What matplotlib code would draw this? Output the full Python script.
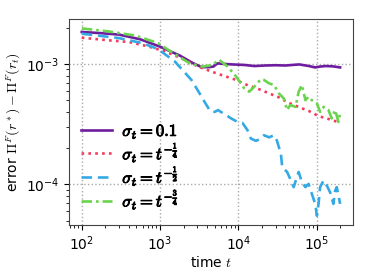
import matplotlib
matplotlib.use("Agg")
import matplotlib.pyplot as plt
import matplotlib.patheffects as pe

plt.rcParams['mathtext.fontset'] = 'cm'

# sigma_t = 0.1
t_const = [100, 175, 300, 560, 1000, 1800, 2600, 3400, 4200, 4800, 5400, 6500, 8400,
           12000, 16000, 22000, 30000, 40000, 60000, 80000, 96000, 110000, 130000,
           160000, 200000]
e_const = [1.84e-3, 1.80e-3, 1.75e-3, 1.60e-3, 1.39e-3, 1.17e-3, 1.02e-3, 0.94e-3,
           0.94e-3, 0.95e-3, 1.01e-3, 1.00e-3, 0.99e-3, 0.98e-3, 0.96e-3, 0.97e-3,
           0.975e-3, 0.97e-3, 0.99e-3, 0.96e-3, 0.935e-3, 0.95e-3, 0.96e-3, 0.955e-3,
           0.935e-3]

# sigma_t = t^-1/4
t_q1 = [100, 220, 400, 700, 1150, 1900, 2500, 3500, 5400, 8900, 13000, 18500, 26000,
        33000, 44000, 62000, 79000, 106000, 149000, 200000]
e_q1 = [1.65e-3, 1.57e-3, 1.52e-3, 1.40e-3, 1.27e-3, 1.11e-3, 1.01e-3, 0.92e-3,
        0.83e-3, 0.745e-3, 0.668e-3, 0.616e-3, 0.562e-3, 0.528e-3, 0.476e-3,
        0.433e-3, 0.408e-3, 0.369e-3, 0.346e-3, 0.325e-3]

# sigma_t = t^-1/2
t_half = [100, 294, 590, 940, 1550, 2520, 3200, 3700, 4300, 4500, 5000, 5500, 7000,
          8100, 9800, 11300, 13100, 14500, 16800, 19400, 21300, 24700, 28600, 31000,
          35000, 36400, 42000, 46000, 51000, 56000, 59000, 65000, 72000, 79000, 87000,
          96000, 101000, 106000, 111000, 123000, 135000, 149000, 164000, 173000,
          181000, 200000]
e_half = [1.78e-3, 1.64e-3, 1.49e-3, 1.33e-3, 1.045e-3, 0.736e-3, 0.57e-3, 0.485e-3,
          0.414e-3, 0.40e-3, 0.40e-3, 0.414e-3, 0.376e-3, 0.353e-3, 0.33e-3, 0.324e-3,
          0.282e-3, 0.24e-3, 0.23e-3, 0.24e-3, 0.256e-3, 0.246e-3, 0.256e-3, 0.233e-3,
          0.18e-3, 0.139e-3, 0.127e-3, 0.1115e-3, 0.095e-3, 0.115e-3, 0.127e-3,
          0.1045e-3, 0.095e-3, 0.101e-3, 0.0837e-3, 0.069e-3, 0.055e-3, 0.069e-3,
          0.095e-3, 0.108e-3, 0.098e-3, 0.086e-3, 0.069e-3, 0.089e-3, 0.095e-3,
          0.069e-3]

# sigma_t = t^-3/4
t_q3 = [100, 220, 480, 940, 1500, 2400, 3500, 4700, 5400, 5700, 7300, 9400, 11900,
        13800, 16000, 19400, 21300, 24700, 28600, 33000, 38000, 42000, 46000, 54000,
        59000, 65000, 72000, 79000, 87000, 101000, 111000, 123000, 142000, 156000,
        173000, 190000, 200000]
e_q3 = [1.97e-3, 1.86e-3, 1.72e-3, 1.49e-3, 1.22e-3, 1.01e-3, 0.95e-3, 0.98e-3,
        1.06e-3, 1.08e-3, 0.95e-3, 0.784e-3, 0.627e-3, 0.588e-3, 0.647e-3, 0.746e-3,
        0.736e-3, 0.69e-3, 0.668e-3, 0.57e-3, 0.518e-3, 0.414e-3, 0.455e-3, 0.44e-3,
        0.588e-3, 0.668e-3, 0.50e-3, 0.534e-3, 0.50e-3, 0.47e-3, 0.40e-3, 0.44e-3,
        0.414e-3, 0.353e-3, 0.414e-3, 0.33e-3, 0.388e-3]

labels = [r'$\sigma_t = 0.1$',
          r'$\sigma_t = t^{-\frac{1}{4}}$',
          r'$\sigma_t = t^{-\frac{1}{2}}$',
          r'$\sigma_t = t^{-\frac{3}{4}}$']

fig = plt.figure(figsize=(3.74, 2.8), dpi=100)
ax = fig.add_axes([0.184, 0.196, 0.76, 0.736])

ax.plot(t_const, e_const, color='#6f1d9f', lw=1.9, ls='-', label=labels[0])
ax.plot(t_q1, e_q1, color='#f53a5c', lw=1.9, ls=(0, (1, 1.6)), label=labels[1])
ax.plot(t_half, e_half, color='#35a9e4', lw=1.9, ls=(0, (4, 2.2)), label=labels[2])
ax.plot(t_q3, e_q3, color='#6ad44c', lw=1.9, ls=(0, (4, 1.5, 1, 1.5)), label=labels[3])

ax.set_xscale('log')
ax.set_yscale('log')
ax.grid(True, which='major', ls=':', color='#aaaaaa', lw=1)
for s in ax.spines.values():
    s.set_color('#444444')
ax.tick_params(labelsize=10)

ax.set_xlabel(r'time $t$', fontsize=10, labelpad=1)
ax.set_ylabel(r'error $\Pi^F(r^*) - \Pi^F(r_t)$', fontsize=10, labelpad=2)

leg = ax.legend(loc='lower left', frameon=False, fontsize=12, handlelength=1.9,
                handletextpad=0.6, labelspacing=0.0, borderaxespad=0,
                bbox_to_anchor=(0.018, 0.034))
# fake bold for the math labels
for txt in leg.get_texts():
    txt.set_path_effects([pe.withStroke(linewidth=0.7, foreground='black')])

fig.savefig('out.png', dpi=100)
